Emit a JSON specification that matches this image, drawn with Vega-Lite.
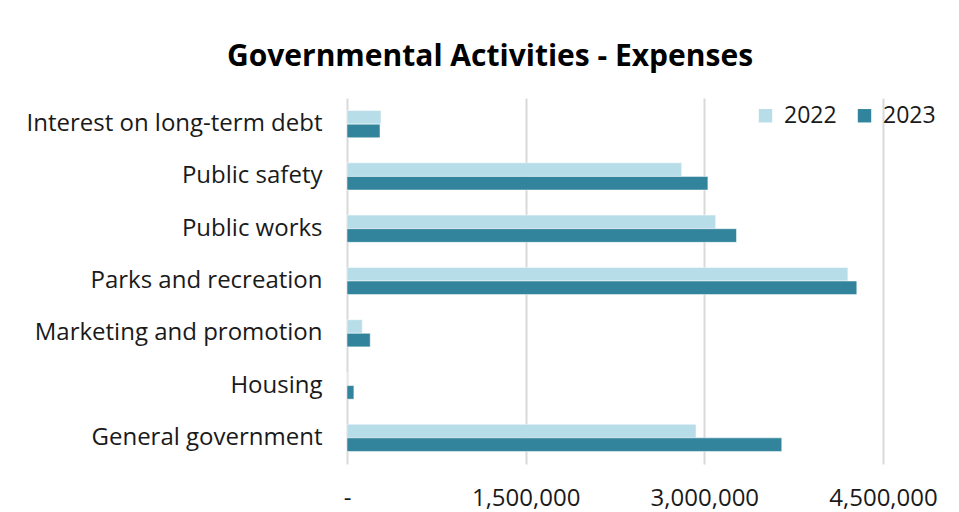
{
  "$schema": "https://vega.github.io/schema/vega-lite/v6.json",
  "autosize": {"type": "none"},
  "padding": {"left": 347, "top": 98, "right": 76, "bottom": 48},
  "width": 536,
  "height": 366,
  "background": "white",
  "title": {"text": "Governmental Activities - Expenses", "font": "Open Sans", "fontSize": 30, "fontWeight": "bold", "color": "#000000", "anchor": "middle", "dx": -125, "offset": 26},
  "data": {"values": [
    {"category": "Interest on long-term debt", "year": "2022", "value": 285000},
    {"category": "Interest on long-term debt", "year": "2023", "value": 277000},
    {"category": "Public  safety", "year": "2022", "value": 2810000},
    {"category": "Public  safety", "year": "2023", "value": 3030000},
    {"category": "Public works", "year": "2022", "value": 3095000},
    {"category": "Public works", "year": "2023", "value": 3270000},
    {"category": "Parks and recreation", "year": "2022", "value": 4205000},
    {"category": "Parks and recreation", "year": "2023", "value": 4280000},
    {"category": "Marketing and promotion", "year": "2022", "value": 128000},
    {"category": "Marketing and promotion", "year": "2023", "value": 195000},
    {"category": "Housing", "year": "2022", "value": 0},
    {"category": "Housing", "year": "2023", "value": 58000},
    {"category": "General government", "year": "2022", "value": 2930000},
    {"category": "General government", "year": "2023", "value": 3650000}
  ]},
  "mark": {"type": "bar", "stroke": "white", "strokeWidth": 0.5},
  "encoding": {
    "y": {"field": "category", "type": "nominal", "sort": null,
      "scale": {"paddingInner": 0.48, "paddingOuter": 0.24},
      "axis": {"title": null, "domain": false, "ticks": false, "labelPadding": 25, "labelFont": "Open Sans", "labelFontSize": 24, "labelColor": "#1a1a1a", "labelLimit": 400}},
    "yOffset": {"field": "year", "type": "nominal", "sort": ["2022", "2023"]},
    "x": {"field": "value", "type": "quantitative",
      "scale": {"domain": [0, 4500000], "nice": false},
      "axis": {"title": null, "values": [0, 1500000, 3000000, 4500000], "format": ",.0f", "labelExpr": "datum.value == 0 ? '-' : datum.label", "labelFlush": false, "labelOverlap": false, "domain": false, "ticks": false, "grid": true, "gridColor": "#d9d9d9", "gridWidth": 2, "labelPadding": 22, "labelFont": "Open Sans", "labelFontSize": 24, "labelColor": "#1a1a1a"}},
    "color": {"field": "year", "type": "nominal",
      "scale": {"domain": ["2022", "2023"], "range": ["#b7dde8", "#31849b"]},
      "legend": {"title": null, "orient": "none", "legendX": 407, "legendY": 6, "direction": "horizontal", "symbolType": "square", "symbolSize": 180, "symbolStrokeWidth": 0, "labelFont": "Open Sans", "labelFontSize": 23, "labelColor": "#1a1a1a", "columnPadding": 16, "labelOffset": 7}}
  },
  "config": {"view": {"stroke": null}}
}
